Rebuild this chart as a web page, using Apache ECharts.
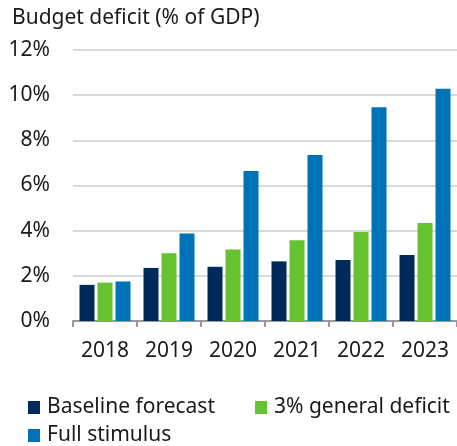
<!DOCTYPE html>
<html>
<head>
<meta charset="utf-8">
<script src="https://cdn.jsdelivr.net/npm/echarts@6/dist/echarts.min.js"></script>
<style>
  html, body { margin: 0; padding: 0; background: #fff; }
  #chart { width: 457px; height: 446px; }
</style>
</head>
<body>
<div id="chart"></div>
<script>
const years = ['2018', '2019', '2020', '2021', '2022', '2023']
const baseline = [1.6, 2.35, 2.4, 2.64, 2.7, 2.92]
const generalDeficit = [1.7, 3.0, 3.17, 3.58, 3.94, 4.34]
const fullStimulus = [1.75, 3.88, 6.64, 7.35, 9.46, 10.28]

const font = '"Noto Sans", "Open Sans", sans-serif'
const textColor = '#1a1a1a'

const chart = echarts.init(document.getElementById('chart'))

function bar(name, data, color) {
  return {
    name: name,
    type: 'bar',
    data: data,
    barWidth: 15,
    barGap: '20%',
    itemStyle: { color: color },
    emphasis: { disabled: true }
  }
}

chart.setOption({
  animation: false,
  textStyle: { fontFamily: font },
  title: {
    text: 'Budget deficit (% of GDP)',
    left: 12,
    top: 8,
    padding: 0,
    textStyle: { fontFamily: font, fontSize: 21, fontWeight: 'normal', color: textColor }
  },
  legend: [
    {
      data: ['Baseline forecast', '3% general deficit'],
      left: 28,
      top: 397,
      padding: 0,
      icon: 'rect',
      itemWidth: 12,
      itemHeight: 13,
      itemGap: 40,
      textStyle: { fontFamily: font, fontSize: 21, color: textColor, padding: [0, 0, 0, 2] }
    },
    {
      data: ['Full stimulus'],
      left: 28,
      top: 425,
      padding: 0,
      icon: 'rect',
      itemWidth: 12,
      itemHeight: 13,
      textStyle: { fontFamily: font, fontSize: 21, color: textColor, padding: [0, 0, 0, 2] }
    }
  ],
  grid: { left: 73, top: 50, width: 390, height: 271, containLabel: false },
  xAxis: {
    type: 'category',
    data: years,
    axisLine: { lineStyle: { color: '#999', width: 2 } },
    axisTick: { show: true, length: 6, lineStyle: { color: '#999', width: 2 } },
    axisLabel: { fontFamily: font, fontSize: 21, color: textColor, margin: 20 }
  },
  yAxis: {
    type: 'value',
    min: 0,
    max: 12,
    interval: 2,
    axisLine: { show: false },
    axisTick: { show: false },
    axisLabel: { fontFamily: font, fontSize: 21, color: textColor, margin: 23, formatter: '{value}%' },
    splitLine: { lineStyle: { color: '#d9d9d9', width: 2 } }
  },
  series: [
    bar('Baseline forecast', baseline, '#002A5C'),
    bar('3% general deficit', generalDeficit, '#65C332'),
    bar('Full stimulus', fullStimulus, '#0072B8')
  ]
})
</script>
</body>
</html>
